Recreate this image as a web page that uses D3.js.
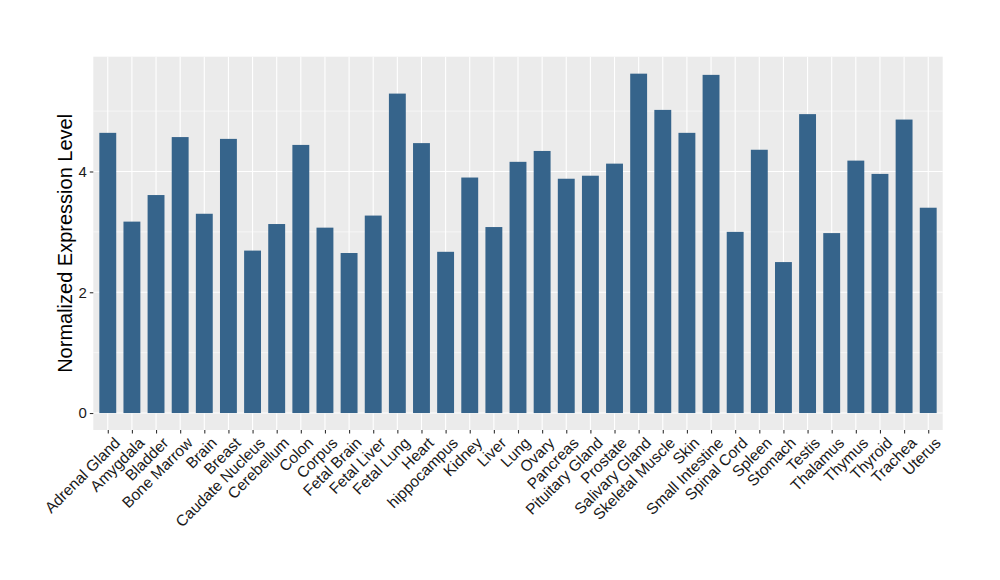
<!DOCTYPE html>
<html>
<head>
<meta charset="utf-8">
<script src="https://cdn.jsdelivr.net/npm/d3@7"></script>
<style>
  body { margin: 0; background: #fff; }
  svg { display: block; font-family: "Liberation Sans", Arial, sans-serif; }
</style>
</head>
<body>
<svg id="chart" width="1000" height="580"></svg>
<script>
const categories = ["Adrenal Gland","Amygdala","Bladder","Bone Marrow","Brain","Breast","Caudate Nucleus","Cerebellum","Colon","Corpus","Fetal Brain","Fetal Liver","Fetal Lung","Heart","hippocampus","Kidney","Liver","Lung","Ovary","Pancreas","Pituitary Gland","Prostate","Salivary Gland","Skeletal Muscle","Skin","Small Intestine","Spinal Cord","Spleen","Stomach","Testis","Thalamus","Thymus","Thyroid","Trachea","Uterus"];
const values = [4.64,3.17,3.61,4.57,3.30,4.54,2.69,3.13,4.44,3.07,2.65,3.27,5.29,4.47,2.67,3.90,3.08,4.16,4.34,3.88,3.93,4.13,5.62,5.02,4.64,5.60,3.00,4.36,2.50,4.95,2.98,4.18,3.96,4.86,3.40];
const yTicks = [0, 2, 4];
const yMinor = [1, 3, 5];
const yTitle = "Normalized Expression Level";

const svg = d3.select("#chart");
const panel = {left: 93.3, right: 942.7, top: 56.7, bottom: 430};

const maxV = d3.max(values);
const pad = maxV * 0.05;
const y = d3.scaleLinear().domain([-pad, maxV + pad]).range([panel.bottom, panel.top]);

const n = categories.length;
const step = (panel.right - panel.left) / (n - 1 + 1.2);
const x = d3.scalePoint().domain(categories)
  .range([panel.left + 0.6 * step, panel.right - 0.6 * step]);
const barW = step * 0.7;

svg.append("rect")
  .attr("x", panel.left).attr("y", panel.top)
  .attr("width", panel.right - panel.left).attr("height", panel.bottom - panel.top)
  .attr("fill", "#EBEBEB");

const g = svg.append("g");
g.selectAll(".minor").data(yMinor).join("line")
  .attr("x1", panel.left).attr("x2", panel.right)
  .attr("y1", d => y(d)).attr("y2", d => y(d))
  .attr("stroke", "#fff").attr("stroke-width", 0.55);
g.selectAll(".majorY").data(yTicks).join("line")
  .attr("x1", panel.left).attr("x2", panel.right)
  .attr("y1", d => y(d)).attr("y2", d => y(d))
  .attr("stroke", "#fff").attr("stroke-width", 1.1);
g.selectAll(".majorX").data(categories).join("line")
  .attr("y1", panel.top).attr("y2", panel.bottom)
  .attr("x1", d => x(d)).attr("x2", d => x(d))
  .attr("stroke", "#fff").attr("stroke-width", 1.1);

svg.append("g").selectAll("rect").data(values).join("rect")
  .attr("x", (d, i) => x(categories[i]) - barW / 2)
  .attr("width", barW)
  .attr("y", d => y(d))
  .attr("height", d => y(0) - y(d))
  .attr("fill", "#36648B");

const yAxis = d3.axisLeft(y).tickValues(yTicks).tickSize(3.5).tickPadding(3).tickFormat(d3.format("d"));
const ya = svg.append("g").attr("transform", `translate(${panel.left},0)`).call(yAxis);
ya.select(".domain").remove();
ya.selectAll(".tick line").attr("stroke", "#333").attr("stroke-width", 1.1);
ya.selectAll(".tick text").attr("fill", "#1a1a1a").attr("font-size", "15px");

const xAxis = d3.axisBottom(x).tickSize(3.5).tickPadding(2);
const xa = svg.append("g").attr("transform", `translate(0,${panel.bottom})`).call(xAxis);
xa.select(".domain").remove();
xa.selectAll(".tick line").attr("stroke", "#333").attr("stroke-width", 1.1);
xa.selectAll(".tick text")
  .attr("fill", "#1a1a1a").attr("font-size", "15.5px")
  .attr("text-anchor", "end")
  .attr("dy", null)
  .attr("transform", "translate(5,6) rotate(-45)")
  .attr("x", 0).attr("y", 0)
  .attr("dominant-baseline", "hanging");

svg.append("text")
  .attr("transform", `translate(72,${(panel.top + panel.bottom) / 2}) rotate(-90)`)
  .attr("text-anchor", "middle")
  .attr("font-size", "20px")
  .attr("fill", "#000")
  .text(yTitle);
</script>
</body>
</html>
